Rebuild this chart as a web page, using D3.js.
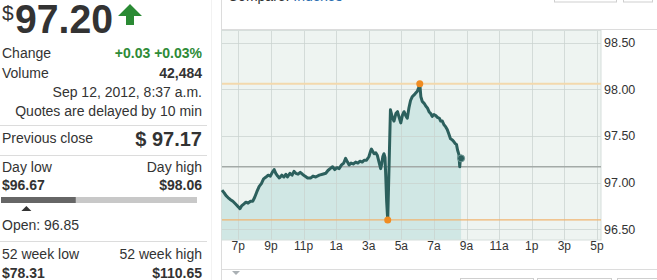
<!DOCTYPE html>
<html><head><meta charset="utf-8">
<script src="https://cdn.jsdelivr.net/npm/d3@7"></script>
<style>body{margin:0;background:#fff;overflow:hidden}svg{display:block;font-family:"Liberation Sans",Arial,sans-serif}</style>
</head><body><svg id="c" width="657" height="280"></svg>
<script>
// ---- data ----
const times = ["18:00","18:08","18:15","18:22","18:30","18:40","18:50","19:00","19:06","19:12","19:20","19:28","19:36","19:45","19:53",
"20:00","20:08","20:17","20:25","20:33","20:42","20:50","20:58","21:05","21:12","21:18","21:25","21:31","21:40","21:48","21:55",
"22:01","22:10","22:18","22:25","22:32","22:40","22:48","22:56","23:05","23:15","23:27","23:35","23:45","23:58",
"00:10","00:22","00:30","00:38","00:47","00:55","01:03","01:11","01:20","01:28","01:35","01:42","01:48","01:55",
"02:03","02:12","02:20","02:28","02:36","02:43","02:52","03:01","03:06","03:10","03:14","03:20","03:26","03:32","03:38","03:44",
"03:48","03:52","03:56","04:00","04:03","04:06","04:10","04:20","04:27","04:33","04:40","04:46","04:52","04:58","05:04","05:10",
"05:16","05:22","05:28","05:34","05:40","05:47","05:53","05:59","06:04","06:08","06:12","06:17","06:24","06:30","06:36","06:42",
"06:48","06:54","07:00","07:06","07:13","07:20","07:25","07:31","07:37","07:43","07:49","07:55","08:01","08:07","08:13","08:18",
"08:23","08:27","08:32","08:35","08:37","08:40"];
const prices = [96.92,96.89,96.86,96.84,96.82,96.80,96.77,96.74,96.72,96.75,96.77,96.79,96.78,96.80,96.80,
96.84,96.90,96.96,96.99,97.04,97.06,97.08,97.07,97.11,97.14,97.10,97.07,97.05,97.08,97.06,97.09,
97.06,97.10,97.08,97.12,97.10,97.09,97.11,97.09,97.07,97.05,97.05,97.07,97.06,97.08,
97.09,97.10,97.13,97.15,97.17,97.14,97.16,97.15,97.19,97.21,97.26,97.22,97.19,97.21,
97.20,97.22,97.21,97.23,97.22,97.24,97.24,97.28,97.33,97.36,97.34,97.31,97.32,97.29,97.22,97.15,
97.20,97.28,97.31,97.27,97.05,96.80,96.60,97.78,97.70,97.66,97.74,97.76,97.70,97.64,97.72,97.76,
97.72,97.69,97.80,97.88,97.92,97.94,97.96,97.98,98.02,98.06,97.92,97.87,97.85,97.82,97.80,97.76,
97.74,97.71,97.73,97.72,97.70,97.69,97.66,97.66,97.62,97.60,97.57,97.52,97.47,97.46,97.44,97.42,
97.41,97.35,97.30,97.17,97.24,97.26];
const xTickLabels = ["7p","9p","11p","1a","3a","5a","7a","9a","11a","1p","3p","5p"];
const yTicks = [96.5,97.0,97.5,98.0,98.5];
const previousClose = 97.17;
const chartLow = {time:"04:10", value:96.60};
const chartHigh = {time:"06:08", value:98.06};
const lastPrice = 97.20, openPrice = 96.85, dayLow = 96.67, dayHigh = 98.06;
const summaryRows = [["Change","+0.03 +0.03%"],["Volume","42,484"]];
const noteRows = ["Sep 12, 2012, 8:37 a.m.","Quotes are delayed by 10 min"];

// ---- helpers ----
function toDate(t){const [h,m]=t.split(":").map(Number);return new Date(Date.UTC(2012,8,h>=18?11:12,h,m));}
const data = times.map((t,i)=>({d:toDate(t),v:prices[i]}));

const svg = d3.select("#c");
const fmt = d3.format(".2f");

// ---- left panel ----
const L = svg.append("g");
const txt=(x,y,s,o={})=>L.append("text").attr("x",x).attr("y",y).text(s)
  .attr("font-size",o.size||14).attr("font-weight",o.bold?"bold":"normal")
  .attr("fill",o.fill||"#333").attr("text-anchor",o.anchor||"start");
txt(2,20,"$",{size:21});
L.append("text").attr("x",15).attr("y",33).text(fmt(lastPrice)).attr("font-size",41).attr("font-weight","bold")
  .attr("fill","#333").attr("textLength",98).attr("lengthAdjust","spacingAndGlyphs");
L.append("polygon").attr("points","118,16 130,4 142,16 134,16 134,25 126,25 126,16").attr("fill","#2a8a34");
txt(2,58,summaryRows[0][0]); txt(202,58,summaryRows[0][1],{bold:true,fill:"#2e8b37",anchor:"end"});
txt(2,78,summaryRows[1][0]); txt(202,78,summaryRows[1][1],{bold:true,anchor:"end"});
txt(202,97,noteRows[0],{anchor:"end"});
txt(202,116,noteRows[1],{anchor:"end"});
[125.5,155.5,241.5].forEach(y=>L.append("line").attr("x1",0).attr("x2",207).attr("y1",y).attr("y2",y).attr("stroke","#dcdcdc"));
txt(2,143,"Previous close"); txt(202,146,"$ "+fmt(previousClose),{bold:true,size:20,anchor:"end"});
txt(2,172,"Day low"); txt(202,172,"Day high",{anchor:"end"});
txt(2,190,"$"+fmt(dayLow),{bold:true}); txt(202,190,"$"+fmt(dayHigh),{bold:true,anchor:"end"});
const bar = d3.scaleLinear().domain([dayLow,dayHigh]).range([1,197]);
L.append("rect").attr("x",bar(dayLow)).attr("y",197).attr("width",bar(dayHigh)-bar(dayLow)).attr("height",6).attr("fill","#c8c8c8");
L.append("rect").attr("x",bar(dayLow)).attr("y",197).attr("width",bar(lastPrice)-bar(dayLow)).attr("height",6).attr("fill","#666");
const ox=bar(openPrice);
L.append("polygon").attr("points",`${ox-5},211 ${ox},206 ${ox+5},211`).attr("fill","#333");
txt(2,230,"Open: "+fmt(openPrice));
txt(2,259,"52 week low"); txt(202,259,"52 week high",{anchor:"end"});
txt(2,278,"$78.31",{bold:true}); txt(202,278,"$110.65",{bold:true,anchor:"end"});
L.append("line").attr("x1",211.5).attr("x2",211.5).attr("y1",0).attr("y2",280).attr("stroke","#f2f2f2");

// ---- chart frame ----
const F = svg.append("g");
F.append("line").attr("x1",221.5).attr("x2",221.5).attr("y1",0).attr("y2",280).attr("stroke","#dcdcdc");
F.append("line").attr("x1",221).attr("x2",657).attr("y1",29.5).attr("y2",29.5).attr("stroke","#dcdcdc");
F.append("line").attr("x1",221).attr("x2",657).attr("y1",269.5).attr("y2",269.5).attr("stroke","#dcdcdc");
const cmp=F.append("text").attr("x",228).attr("y",1).attr("font-size",14).attr("fill","#333");
cmp.append("tspan").text("Compare: "); cmp.append("tspan").attr("fill","#2a6db0").text("Indexes");
[[554.5,62],[623.5,29]].forEach(([x,w])=>F.append("rect").attr("x",x).attr("y",-20).attr("width",w).attr("height",22).attr("fill","#fff").attr("stroke","#cfcfcf"));
[[460.5,73],[537.5,74],[617.5,60]].forEach(([x,w])=>F.append("rect").attr("x",x).attr("y",278.5).attr("width",w).attr("height",20).attr("fill","#fff").attr("stroke","#cfcfcf"));
F.append("polygon").attr("points","232,271 240,271 236,275").attr("fill","#aab0b4");

// ---- scales ----
const x = d3.scaleUtc().domain([toDate("18:00"), toDate("17:15")]).range([222,601]);
const y = d3.scaleLinear().domain([96.385,98.625]).range([240,31]);

const P = svg.append("g");
P.append("rect").attr("x",222).attr("y",31).attr("width",379).attr("height",209).attr("fill","#eef4f1");
P.append("path").datum(data).attr("fill","#d0e7e4")
  .attr("d",d3.area().x(d=>x(d.d)).y0(240).y1(d=>y(d.v)));

// gridlines
const hourTicks = x.ticks(d3.utcHour.every(1)).filter(d=>d.getUTCHours()%2===1);
const tickLabel = d=>{const h=d.getUTCHours();return ((h%12)||12)+(h<12?"a":"p");};
P.selectAll(".vg").data(hourTicks).join("line").attr("x1",d=>Math.round(x(d))+0.5).attr("x2",d=>Math.round(x(d))+0.5)
  .attr("y1",31).attr("y2",240).attr("stroke","#c9d3cf").attr("stroke-opacity",0.75);
P.selectAll(".hg").data(yTicks).join("line").attr("x1",222).attr("x2",601)
  .attr("y1",d=>Math.round(y(d))+0.5).attr("y2",d=>Math.round(y(d))+0.5).attr("stroke","#c9d3cf").attr("stroke-opacity",0.75);
P.append("rect").attr("x",221.5).attr("y",30.5).attr("width",379.5).attr("height",209.5).attr("fill","none").attr("stroke","#d6dedb");

// reference lines
P.append("line").attr("x1",222).attr("x2",601).attr("y1",y(previousClose)).attr("y2",y(previousClose)).attr("stroke","#a3aaa7").attr("stroke-width",1.5);
P.append("line").attr("x1",222).attr("x2",601).attr("y1",y(chartHigh.value)).attr("y2",y(chartHigh.value)).attr("stroke","#f3d9ad").attr("stroke-width",2);
P.append("line").attr("x1",222).attr("x2",601).attr("y1",y(chartLow.value)).attr("y2",y(chartLow.value)).attr("stroke","#f0b470").attr("stroke-width",1.2);

// price line
P.append("path").datum(data).attr("fill","none").attr("stroke","#2c605d").attr("stroke-width",3).attr("stroke-linejoin","round")
  .attr("d",d3.line().x(d=>x(d.d)).y(d=>y(d.v)));
[chartHigh,chartLow].forEach(p=>P.append("circle").attr("cx",x(toDate(p.time))).attr("cy",y(p.value)).attr("r",3.5).attr("fill","#f08c22"));
const last=data[data.length-1];
P.append("circle").attr("cx",x(last.d)).attr("cy",y(last.v)).attr("r",3.5).attr("fill","#2c605d").attr("stroke","#6f9996").attr("stroke-width",1);

// axes labels
P.selectAll(".xl").data(hourTicks).join("text").attr("x",d=>x(d)).attr("y",250).attr("text-anchor","middle")
  .attr("font-size",12).attr("fill","#333").text((d,i)=>xTickLabels[i]||tickLabel(d));
P.selectAll(".yl").data(yTicks).join("text").attr("x",604).attr("y",d=>y(d)+4.5)
  .attr("font-size",12.5).attr("fill","#333").text(d=>fmt(d));
</script></body></html>
